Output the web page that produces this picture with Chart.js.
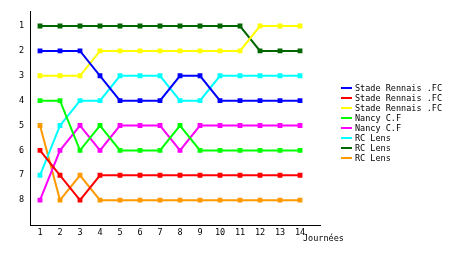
<!DOCTYPE html>
<html>
<head>
<meta charset="utf-8">
<script src="https://cdn.jsdelivr.net/npm/chart.js@4"></script>
<style>
  body { margin: 0; background: #fff; }
  canvas { display: block; }
</style>
</head>
<body>
<canvas id="rankChart" width="460" height="255"></canvas>
<script>
// journees 1..14, classement par equipe
var journees = [1, 2, 3, 4, 5, 6, 7, 8, 9, 10, 11, 12, 13, 14];
var rankTicks = [1, 2, 3, 4, 5, 6, 7, 8];

var rennesBlue   = [2, 2, 2, 3, 4, 4, 4, 3, 3, 4, 4, 4, 4, 4];
var rennesRed    = [6, 7, 8, 7, 7, 7, 7, 7, 7, 7, 7, 7, 7, 7];
var rennesYellow = [3, 3, 3, 2, 2, 2, 2, 2, 2, 2, 2, 1, 1, 1];
var nancyGreen   = [4, 4, 6, 5, 6, 6, 6, 5, 6, 6, 6, 6, 6, 6];
var nancyPink    = [8, 6, 5, 6, 5, 5, 5, 6, 5, 5, 5, 5, 5, 5];
var lensCyan     = [7, 5, 4, 4, 3, 3, 3, 4, 4, 3, 3, 3, 3, 3];
var lensDark     = [1, 1, 1, 1, 1, 1, 1, 1, 1, 1, 1, 2, 2, 2];
var lensOrange   = [5, 8, 7, 8, 8, 8, 8, 8, 8, 8, 8, 8, 8, 8];

var font = { family: "DejaVu Sans Mono", size: 8.5 };

function toPoints(vals) {
  return vals.map(function (v, i) { return { x: journees[i], y: v }; });
}

function serie(label, vals, color) {
  return {
    label: label,
    data: toPoints(vals),
    borderColor: color,
    backgroundColor: color,
    borderWidth: 2,
    pointStyle: "rect",
    pointRadius: 2,
    tension: 0,
    fill: false
  };
}

// legend + axis title drawn by hand so they sit where the original has them
var extras = {
  id: "extras",
  afterDraw: function (chart) {
    var ctx = chart.ctx;
    ctx.save();
    ctx.font = font.size + "px " + font.family;
    ctx.fillStyle = "#000";
    ctx.textBaseline = "middle";
    chart.data.datasets.forEach(function (ds, i) {
      var y = 88 + i * 10;
      ctx.fillStyle = ds.borderColor;
      ctx.fillRect(341, y - 1, 11, 2);
      ctx.fillStyle = "#000";
      ctx.fillText(ds.label, 355, y + 1);
    });
    ctx.fillText("Journées", 303, 239);
    ctx.restore();
  }
};

new Chart("rankChart", {
  type: "line",
  data: {
    datasets: [
      serie("Stade Rennais .FC", rennesBlue, "#0000ff"),
      serie("Stade Rennais .FC", rennesRed, "#ff0000"),
      serie("Stade Rennais .FC", rennesYellow, "#ffff00"),
      serie("Nancy C.F", nancyGreen, "#00ff00"),
      serie("Nancy C.F", nancyPink, "#ff00ff"),
      serie("RC Lens", lensCyan, "#00ffff"),
      serie("RC Lens", lensDark, "#006600"),
      serie("RC Lens", lensOrange, "#ff9900")
    ]
  },
  options: {
    responsive: false,
    animation: false,
    layout: { padding: { top: 10, right: 140, left: 0, bottom: 0 } },
    plugins: { legend: { display: false }, tooltip: { enabled: false } },
    scales: {
      x: {
        type: "linear",
        min: 0.5,
        max: 15,
        afterBuildTicks: function (s) { s.ticks = journees.map(function (v) { return { value: v }; }); },
        afterFit: function (s) { s.height = 30; },
        grid: { display: false, drawTicks: false },
        border: { color: "#000", width: 1 },
        ticks: { color: "#000", font: font, padding: 3, maxRotation: 0 }
      },
      y: {
        type: "linear",
        reverse: true,
        min: 0.4,
        max: 9,
        afterBuildTicks: function (s) { s.ticks = rankTicks.map(function (v) { return { value: v }; }); },
        afterFit: function (s) { s.width = 30; },
        grid: { display: false, drawTicks: false },
        border: { color: "#000", width: 1 },
        ticks: { color: "#000", font: font, padding: 6 }
      }
    }
  },
  plugins: [extras]
});
</script>
</body>
</html>
